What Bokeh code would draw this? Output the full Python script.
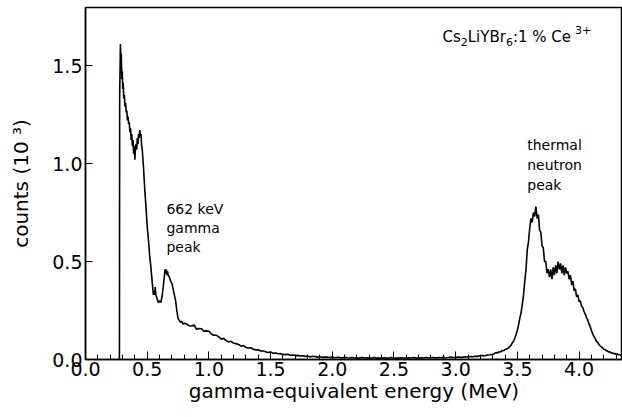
from bokeh.plotting import figure
from bokeh.models import Range1d, Label, PrintfTickFormatter, FixedTicker
from bokeh.embed import file_html
from bokeh.resources import INLINE

# --- data (energy in MeV, counts in 10^3) ---
energy_low = [0.275, 0.277, 0.283, 0.287, 0.290, 0.294, 0.298, 0.302, 0.306, 0.310,
              0.315, 0.320, 0.325, 0.330, 0.335, 0.340, 0.345, 0.350, 0.355, 0.360,
              0.365, 0.370, 0.375, 0.380, 0.385, 0.390, 0.395, 0.400, 0.405, 0.410,
              0.415, 0.420, 0.425, 0.430, 0.435, 0.440, 0.445, 0.450, 0.455, 0.460,
              0.470, 0.480, 0.490, 0.500, 0.510, 0.520, 0.530, 0.540, 0.550, 0.555,
              0.560, 0.565, 0.570, 0.580, 0.590, 0.600, 0.610, 0.620, 0.630, 0.640,
              0.645, 0.650, 0.655, 0.660, 0.665, 0.670, 0.680, 0.690, 0.700, 0.710,
              0.720, 0.730, 0.740, 0.750, 0.760, 0.770, 0.780, 0.790, 0.800]
counts_low = [0.0, 1.34, 1.61, 1.50, 1.56, 1.43, 1.47, 1.38, 1.41, 1.33,
              1.35, 1.29, 1.31, 1.26, 1.27, 1.22, 1.24, 1.20, 1.21, 1.16,
              1.18, 1.12, 1.15, 1.09, 1.12, 1.05, 1.09, 1.02, 1.08, 1.10,
              1.07, 1.13, 1.10, 1.15, 1.13, 1.17, 1.14, 1.15, 1.09, 1.07,
              0.98, 0.87, 0.78, 0.68, 0.61, 0.53, 0.47, 0.40, 0.33, 0.35,
              0.33, 0.37, 0.33, 0.31, 0.29, 0.30, 0.29, 0.32, 0.37, 0.43,
              0.46, 0.44, 0.46, 0.43, 0.45, 0.43, 0.42, 0.40, 0.39, 0.36,
              0.33, 0.30, 0.25, 0.21, 0.20, 0.19, 0.195, 0.18, 0.185]

energy_mid = [0.82, 0.84, 0.86, 0.88, 0.90, 0.92, 0.94, 0.96, 0.98, 1.00,
              1.02, 1.04, 1.06, 1.08, 1.10, 1.12, 1.14, 1.16, 1.18, 1.20,
              1.22, 1.24, 1.26, 1.28, 1.30, 1.32, 1.34, 1.36, 1.38, 1.40,
              1.42, 1.44, 1.46, 1.48, 1.50, 1.52, 1.54, 1.56, 1.58, 1.60,
              1.62, 1.64, 1.66, 1.68, 1.70, 1.72, 1.74, 1.76, 1.78, 1.80,
              1.82, 1.84, 1.86, 1.88, 1.90, 1.92, 1.94, 1.96, 1.98, 2.00,
              2.02, 2.04, 2.06, 2.08, 2.10, 2.12, 2.14, 2.16, 2.18, 2.20,
              2.22, 2.24, 2.26, 2.28, 2.30, 2.32, 2.34, 2.36, 2.38, 2.40,
              2.42, 2.44, 2.46, 2.48, 2.50, 2.52, 2.54, 2.56, 2.58, 2.60,
              2.62, 2.64, 2.66, 2.68, 2.70, 2.72, 2.74, 2.76, 2.78, 2.80,
              2.82, 2.84, 2.86, 2.88, 2.90, 2.92, 2.94, 2.96, 2.98, 3.00,
              3.02, 3.04, 3.06, 3.08, 3.10, 3.12, 3.14, 3.16, 3.18, 3.20,
              3.22, 3.24, 3.26, 3.28, 3.30]
counts_mid = [0.181, 0.172, 0.171, 0.176, 0.154, 0.158, 0.157, 0.145, 0.146, 0.144,
              0.130, 0.124, 0.124, 0.115, 0.104, 0.108, 0.096, 0.090, 0.093, 0.083,
              0.081, 0.077, 0.068, 0.071, 0.062, 0.059, 0.060, 0.052, 0.049, 0.050,
              0.043, 0.044, 0.039, 0.036, 0.038, 0.032, 0.033, 0.029, 0.030, 0.026,
              0.025, 0.027, 0.022, 0.023, 0.020, 0.021, 0.018, 0.019, 0.016, 0.017,
              0.014, 0.016, 0.015, 0.012, 0.014, 0.011, 0.013, 0.012, 0.010, 0.012,
              0.009, 0.011, 0.010, 0.008, 0.011, 0.009, 0.008, 0.010, 0.008, 0.009,
              0.007, 0.010, 0.008, 0.009, 0.007, 0.008, 0.010, 0.007, 0.008, 0.007,
              0.009, 0.007, 0.008, 0.010, 0.007, 0.008, 0.007, 0.009, 0.008, 0.007,
              0.009, 0.008, 0.010, 0.007, 0.008, 0.009, 0.008, 0.010, 0.008, 0.009,
              0.010, 0.008, 0.010, 0.009, 0.011, 0.009, 0.010, 0.012, 0.010, 0.011,
              0.013, 0.011, 0.012, 0.014, 0.013, 0.015, 0.014, 0.017, 0.016, 0.019,
              0.020, 0.019, 0.023, 0.024, 0.027]

energy_high = [3.31, 3.32, 3.33, 3.34, 3.35, 3.36, 3.37, 3.38, 3.39, 3.40,
               3.41, 3.42, 3.43, 3.44, 3.45, 3.46, 3.47, 3.48, 3.49, 3.50,
               3.51, 3.52, 3.53, 3.54, 3.55, 3.56, 3.57, 3.58, 3.59, 3.60,
               3.61, 3.62, 3.63, 3.64, 3.65, 3.66, 3.67, 3.68, 3.69, 3.70,
               3.71, 3.72, 3.73, 3.74, 3.75, 3.76, 3.77, 3.78, 3.79, 3.80,
               3.81, 3.82, 3.83, 3.84, 3.85, 3.86, 3.87, 3.88, 3.89, 3.90,
               3.91, 3.92, 3.93, 3.94, 3.95, 3.96, 3.97, 3.98, 3.99, 4.00,
               4.01, 4.02, 4.03, 4.04, 4.05, 4.06, 4.07, 4.08, 4.09, 4.10,
               4.11, 4.12, 4.13, 4.14, 4.15, 4.16, 4.17, 4.18, 4.19, 4.20,
               4.21, 4.22, 4.23, 4.24, 4.25, 4.26, 4.27, 4.28, 4.29, 4.30,
               4.31, 4.32, 4.33, 4.34, 4.35, 4.36]
counts_high = [0.029, 0.033, 0.035, 0.034, 0.039, 0.038, 0.042, 0.046, 0.045, 0.051,
               0.053, 0.056, 0.061, 0.067, 0.074, 0.086, 0.094, 0.110, 0.129, 0.150,
               0.177, 0.212, 0.238, 0.283, 0.330, 0.400, 0.460, 0.560, 0.600, 0.670,
               0.720, 0.700, 0.750, 0.730, 0.780, 0.720, 0.740, 0.660, 0.650, 0.580,
               0.570, 0.500, 0.500, 0.440, 0.460, 0.420, 0.460, 0.410, 0.470, 0.430,
               0.480, 0.440, 0.500, 0.460, 0.490, 0.440, 0.480, 0.430, 0.470, 0.440,
               0.450, 0.410, 0.430, 0.380, 0.400, 0.350, 0.360, 0.320, 0.330, 0.295,
               0.300, 0.272, 0.265, 0.245, 0.232, 0.214, 0.202, 0.183, 0.168, 0.148,
               0.132, 0.118, 0.108, 0.094, 0.088, 0.078, 0.070, 0.064, 0.060, 0.052,
               0.051, 0.045, 0.044, 0.038, 0.039, 0.033, 0.034, 0.030, 0.031, 0.026,
               0.028, 0.024, 0.025, 0.021, 0.023, 0.020]

x_major_ticks = [0.0, 0.5, 1.0, 1.5, 2.0, 2.5, 3.0, 3.5, 4.0]
x_minor_ticks = [0.1, 0.2, 0.3, 0.4, 0.6, 0.7, 0.8, 0.9, 1.1, 1.2, 1.3, 1.4,
                 1.6, 1.7, 1.8, 1.9, 2.1, 2.2, 2.3, 2.4, 2.6, 2.7, 2.8, 2.9,
                 3.1, 3.2, 3.3, 3.4, 3.6, 3.7, 3.8, 3.9, 4.1, 4.2, 4.3]
y_major_ticks = [0.0, 0.5, 1.0, 1.5]

gamma_label_lines = ["662 keV", "gamma", "peak"]
neutron_label_lines = ["thermal", "neutron", "peak"]
# formula pieces: (text, vertical shift: -1 subscript, 0 normal, +1 superscript)
formula_parts = [("Cs", 0), ("2", -1), ("LiYBr", 0), ("6", -1), (":1 % Ce", 0), ("3+", 1)]

energy = energy_low + energy_mid + energy_high
counts = counts_low + counts_mid + counts_high

FONT = "DejaVu Sans"

p = figure(width=622, height=417, output_backend="svg", toolbar_location=None,
           x_range=Range1d(0, 4.352), y_range=Range1d(0, 1.796),
           min_border_left=85, min_border_right=0, min_border_top=7,
           min_border_bottom=58)
p.background_fill_color = "white"
p.border_fill_color = "white"
p.grid.visible = False
p.outline_line_color = "black"
p.outline_line_width = 1.5

p.line(energy, counts, line_color="black", line_width=1.6)

p.xaxis.ticker = FixedTicker(ticks=x_major_ticks, minor_ticks=x_minor_ticks)
p.yaxis.ticker = FixedTicker(ticks=y_major_ticks, minor_ticks=[])
for ax in (p.xaxis, p.yaxis):
    ax.formatter = PrintfTickFormatter(format="%.1f")
    ax.axis_line_color = "black"
    ax.axis_line_width = 1.5
    ax.major_tick_line_color = "black"
    ax.minor_tick_line_color = "black"
    ax.major_tick_line_width = 1
    ax.minor_tick_line_width = 1
    ax.major_tick_out = 0
    ax.minor_tick_out = 0
    ax.major_label_text_font = FONT
    ax.major_label_text_font_size = "19px"
    ax.major_label_text_color = "black"
    ax.axis_label_text_font = FONT
    ax.axis_label_text_font_size = "20px"
    ax.axis_label_text_font_style = "normal"
    ax.axis_label_text_color = "black"

p.xaxis.major_tick_in = 8
p.xaxis.minor_tick_in = 5
p.xaxis.major_label_standoff = 2
p.xaxis.axis_label = "gamma-equivalent energy (MeV)"
p.xaxis.axis_label_standoff = 0
p.yaxis.major_tick_in = 7
p.yaxis.minor_tick_in = 0
p.yaxis.major_label_standoff = 3
p.yaxis.axis_label = "counts (10 \u00b3)"
p.yaxis.axis_label_standoff = 16

for i, t in enumerate(gamma_label_lines):
    p.add_layout(Label(x=0.656, y=0.77, y_offset=-19 * i, text=t,
                       text_font=FONT, text_font_size="14px", text_color="black",
                       text_align="left", text_baseline="alphabetic"))
for i, t in enumerate(neutron_label_lines):
    p.add_layout(Label(x=3.58, y=1.092, y_offset=-20 * i, text=t,
                       text_font=FONT, text_font_size="14px", text_color="black",
                       text_align="left", text_baseline="alphabetic"))

# chemical formula with sub/superscripts, laid out piece by piece
main_size, script_size = 15, 11
char_w = {"C": 0.698, "s": 0.521, "L": 0.557, "i": 0.278, "Y": 0.611, "B": 0.686,
          "r": 0.411, ":": 0.337, "1": 0.636, " ": 0.318, "%": 0.950, "e": 0.615,
          "2": 0.636, "6": 0.636, "3": 0.636, "+": 0.838}
xoff = 0.0
for text, shift in formula_parts:
    size = main_size if shift == 0 else script_size
    if shift > 0:
        xoff += 4
    p.add_layout(Label(x=2.893, y=1.648, x_offset=xoff,
                       y_offset=5 * shift + (2 if shift > 0 else 0),
                       text=text, text_font=FONT, text_font_size=f"{size}px",
                       text_color="black", text_align="left", text_baseline="alphabetic"))
    xoff += sum(char_w[c] for c in text) * size

open("out.html", "w").write(file_html(p, INLINE))
